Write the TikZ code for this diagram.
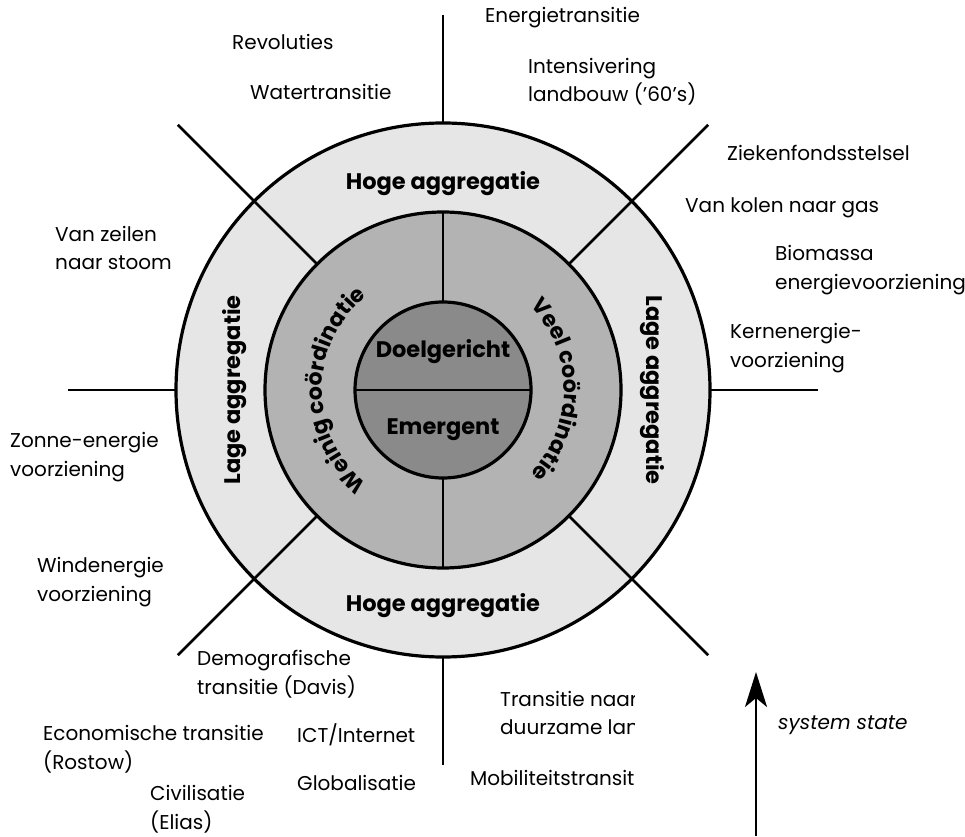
\documentclass[tikz,border=0pt]{standalone}
\usepackage{fontspec}
\setmainfont{Poppins}
\usetikzlibrary{arrows.meta,decorations.text,positioning}
\definecolor{ringA}{HTML}{E6E6E6}
\definecolor{ringB}{HTML}{B3B3B3}
\definecolor{ringC}{HTML}{8A8A8A}

\begin{document}
\begin{tikzpicture}[
      x=1pt, y=1pt,
      ring/.style={draw=black, line width=3.2pt},
      spoke/.style={draw=black, line width=2.8pt},
      item/.style={
         anchor=west,
         align=left,
         inner sep=0pt,
         font=\fontsize{20}{28.5}\selectfont
      },
      heavy/.style={
         inner sep=0pt,
         font=\bfseries\fontsize{22.5}{22.5}\selectfont
      },
      arc text/.style={
         decorate,
         decoration={text along path, text align=center,
            text={|\bfseries\fontsize{22}{22}\selectfont|#1}}
      },
      >={Stealth[length=35pt,width=22pt,inset=9pt]}
    ]
    \useasboundingbox (0,0) rectangle (965,836);
    \coordinate (c) at (443,446);
    \begin{scope}[shift={(c)}]
       % rings
       \fill[ringA] (0,0) circle (267);
       \fill[ringB] (0,0) circle (178);
       \fill[ringC] (0,0) circle (88);
       % spokes
       \foreach \a in {0,45,...,315}
          \draw[spoke] (\a:267) -- (\a:375);
       \foreach \a in {45,135,225,315}
          \draw[spoke] (\a:178) -- (\a:267);
       \foreach \a in {90,270}
          \draw[spoke] (\a:88) -- (\a:178);
       \draw[spoke] (180:88) -- (0:88);
       \draw[ring] (0,0) circle (267) (0,0) circle (178) (0,0) circle (88);
       % ring labels
       \node[heavy] (h1) at (90:206) {Hoge aggregatie};
       \node[heavy] (h2) at (270:216) {Hoge aggregatie};
       \node[heavy, rotate=90] (l1) at (180:208) {Lage aggregatie};
       \node[heavy, rotate=-90] (l2) at (0:209) {Lage aggregatie};
       \node[heavy] (d1) at (0,38) {Doelgericht};
       \node[heavy] (e1) at (0,-40) {Emergent};
       \path[arc text={Weinig coördinatie}] (260:121) arc[start angle=260, end angle=100, radius=121];
       \path[arc text={Veel coördinatie}] (80:121) arc[start angle=80, end angle=-80, radius=121];
    \end{scope}
    % examples
    \node[item] (t1) at (232,794) {Revoluties};
    \node[item] (t2) at (250,744) {Watertransitie};
    \node[item] (t3) at (485,818) {Energietransitie};
    \node[item] (t4) at (528,754) {Intensivering\\landbouw (’60’s)};
    \node[item] (t5) at (727,683) {Ziekenfondsstelsel};
    \node[item] (t6) at (685,628) {Van kolen naar gas};
    \node[item] (t7) at (775,566) {Biomassa\\energievoorziening};
    \node[item] (t8) at (730,488) {Kernenergie-\\voorziening};
    \node[item] (t9) at (55,588) {Van zeilen\\naar stoom};
    \node[item] (t10) at (10,379) {Zonne-energie\\voorziening};
    \node[item] (t11) at (37,254) {Windenergie\\voorziening};
    \node[item] (t12) at (197,162) {Demografische\\transitie (Davis)};
    \node[item] (t13) at (43,87) {Economische transitie\\(Rostow)};
    \node[item] (t14) at (150,27) {Civilisatie\\(Elias)};
    \node[item] (t15) at (297,101) {ICT/Internet};
    \node[item] (t16) at (297,53) {Globalisatie};
    \begin{scope}
       \clip (0,0) rectangle (634,836);
       \node[item] (t17) at (500,123) {Transitie naar\\duurzame landbouw};
       \node[item] (t18) at (470,58) {Mobiliteitstransitie};
    \end{scope}
    % system state
    \coordinate (s0) at (756,0);
    \coordinate (s1) at (756,164);
    \draw[->, line width=2.3pt] (s0) -- (s1);
    \node[item, font=\itshape\fontsize{20}{24}\selectfont] (t19) at (778,111) {system state};
\end{tikzpicture}
\end{document}
